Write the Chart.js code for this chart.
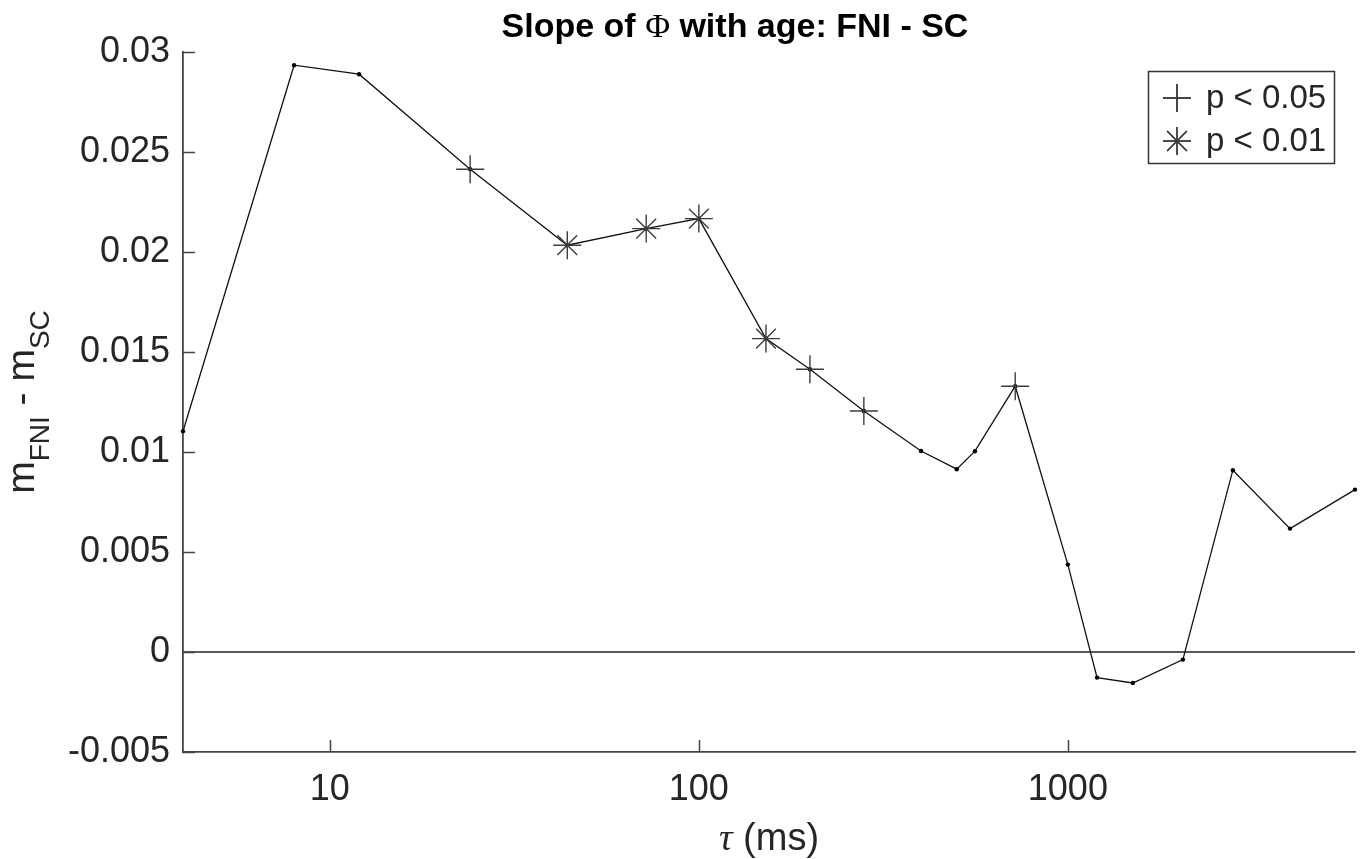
<!DOCTYPE html>
<html>
<head>
<meta charset="utf-8">
<script src="https://cdn.jsdelivr.net/npm/chart.js@4.4.1/dist/chart.umd.min.js"></script>
<style>
  html, body { margin: 0; padding: 0; background: #fff; }
  #chart { display: block; }
</style>
</head>
<body>
<canvas id="chart" width="1361" height="859"></canvas>
<script>
// tau (ms) on a log axis, slope difference FNI - SC
const tauMs = [4, 8, 12, 24, 44, 72, 100, 152, 200, 280, 400, 500, 560, 720, 1000, 1200, 1500, 2050, 2800, 4000, 6000];
const slopeDiff = [0.01104, 0.02934, 0.02889, 0.02414, 0.02034, 0.02117, 0.02167, 0.01567, 0.01414, 0.01205, 0.01005,
  0.00914, 0.01004, 0.01329, 0.00437, -0.00128, -0.00155, -0.00038, 0.00909, 0.00617, 0.00812];

// which tau values are significant
const sigP05 = [24, 200, 280, 720];
const sigP01 = [44, 72, 100, 152];
const legendLabels = ['p < 0.05', 'p < 0.01'];

const xTicks = [10, 100, 1000];
const yTicks = [-0.005, 0, 0.005, 0.01, 0.015, 0.02, 0.025, 0.03];

const FONT = '"Liberation Sans", Arial, Helvetica, sans-serif';
const AXIS_COLOR = '#444';
const TEXT_COLOR = '#262626';
const MARKER_COLOR = '#3c3c3c';

const linePoints = tauMs.map((t, i) => ({ x: t, y: slopeDiff[i] }));
const pick = list => linePoints.filter(p => list.includes(p.x));

// inward tick marks, labels and the boxed legend (MATLAB look)
const decorations = {
  id: 'decorations',
  afterDraw(chart) {
    const ctx = chart.ctx;
    const xs = chart.scales.x, ys = chart.scales.y;
    const area = chart.chartArea;

    ctx.save();
    ctx.strokeStyle = AXIS_COLOR;
    ctx.lineWidth = 1.5;
    ctx.beginPath();
    xTicks.forEach(v => {
      const px = Math.round(xs.getPixelForValue(v)) + 0.5;
      ctx.moveTo(px, area.bottom);
      ctx.lineTo(px, area.bottom - 12);
    });
    yTicks.forEach(v => {
      const py = Math.round(ys.getPixelForValue(v)) + 0.5;
      ctx.moveTo(area.left, py);
      ctx.lineTo(area.left + 12, py);
    });
    ctx.stroke();

    // title
    ctx.fillStyle = '#000';
    ctx.textBaseline = 'alphabetic';
    const parts = [
      { t: 'Slope of ', f: 'bold 34px ' + FONT },
      { t: '\u03A6', f: '34px "Liberation Serif", "DejaVu Serif", serif' },
      { t: ' with age: FNI - SC', f: 'bold 34px ' + FONT }
    ];
    let total = 0;
    parts.forEach(p => { ctx.font = p.f; p.w = ctx.measureText(p.t).width; total += p.w; });
    let tx = 735 - total / 2;
    ctx.textAlign = 'left';
    parts.forEach(p => { ctx.font = p.f; ctx.fillText(p.t, tx, 37); tx += p.w; });

    // x label
    ctx.fillStyle = TEXT_COLOR;
    const tau = { t: '\u03C4', f: 'italic 38px "Liberation Serif", "DejaVu Serif", serif' };
    const rest = { t: ' (ms)', f: '38px ' + FONT };
    ctx.font = tau.f; tau.w = ctx.measureText(tau.t).width;
    ctx.font = rest.f; rest.w = ctx.measureText(rest.t).width;
    let lx = (area.left + area.right) / 2 - (tau.w + rest.w) / 2;
    ctx.font = tau.f; ctx.fillText(tau.t, lx, 850);
    ctx.font = rest.f; ctx.fillText(rest.t, lx + tau.w, 850);

    // y label with subscripts
    const yl = [
      { t: 'm', f: '39px ' + FONT, dy: 0 },
      { t: 'FNI', f: '28px ' + FONT, dy: 15 },
      { t: ' - m', f: '39px ' + FONT, dy: 0 },
      { t: 'SC', f: '28px ' + FONT, dy: 15 }
    ];
    let yw = 0;
    yl.forEach(p => { ctx.font = p.f; p.w = ctx.measureText(p.t).width; yw += p.w; });
    ctx.translate(34, (area.top + area.bottom) / 2);
    ctx.rotate(-Math.PI / 2);
    let ox = -yw / 2;
    yl.forEach(p => { ctx.font = p.f; ctx.fillText(p.t, ox, p.dy); ox += p.w; });
    ctx.setTransform(1, 0, 0, 1, 0, 0);

    // legend box
    const bx = 1148, by = 71, bw = 186, bh = 92;
    ctx.fillStyle = '#fff';
    ctx.fillRect(bx, by, bw, bh);
    ctx.strokeStyle = '#333';
    ctx.lineWidth = 1.5;
    ctx.strokeRect(bx + 0.5, by + 0.5, bw, bh);
    const rows = [98, 141];
    [2, 3].forEach((di, k) => {
      const ds = chart.data.datasets[di];
      Chart.helpers.drawPoint(ctx, {
        pointStyle: ds.pointStyle, radius: 14, borderWidth: ds.borderWidth, rotation: 0
      }, 1177, rows[k]);
      ctx.strokeStyle = ds.borderColor;
      ctx.lineWidth = ds.borderWidth;
      ctx.stroke();
      ctx.fillStyle = TEXT_COLOR;
      ctx.font = '33px ' + FONT;
      ctx.textBaseline = 'middle';
      ctx.fillText(ds.label, 1206, rows[k] + 1);
    });
    ctx.restore();
  }
};

new Chart(document.getElementById('chart'), {
  type: 'line',
  data: {
    datasets: [
      {
        label: 'slope',
        data: linePoints,
        borderColor: '#111',
        borderWidth: 1.3,
        pointRadius: 2.2,
        pointBackgroundColor: '#000',
        pointBorderWidth: 0,
        tension: 0,
        order: 1
      },
      {
        label: 'zero',
        data: [{ x: tauMs[0], y: 0 }, { x: tauMs[tauMs.length - 1], y: 0 }],
        borderColor: '#5a5a5a',
        borderWidth: 1.8,
        pointRadius: 0,
        order: 2
      },
      {
        label: legendLabels[0],
        data: pick(sigP05),
        showLine: false,
        pointStyle: 'cross',
        pointRadius: 14,
        borderColor: MARKER_COLOR,
        borderWidth: 1.4,
        order: 0
      },
      {
        label: legendLabels[1],
        data: pick(sigP01),
        showLine: false,
        pointStyle: 'star',
        pointRadius: 14,
        borderColor: MARKER_COLOR,
        borderWidth: 1.4,
        order: 0
      }
    ]
  },
  options: {
    responsive: false,
    animation: false,
    clip: false,
    layout: { autoPadding: false, padding: { top: 52, right: 6, left: 0, bottom: 0 } },
    plugins: {
      legend: { display: false },
      title: { display: false },
      tooltip: { enabled: false }
    },
    scales: {
      x: {
        type: 'logarithmic',
        min: tauMs[0],
        max: tauMs[tauMs.length - 1],
        afterBuildTicks: scale => { scale.ticks = xTicks.map(v => ({ value: v })); },
        afterFit: scale => { scale.height = 107; scale.paddingLeft = 0; scale.paddingRight = 0; },
        ticks: {
          autoSkip: false,
          maxRotation: 0,
          padding: 16,
          color: TEXT_COLOR,
          font: { family: FONT, size: 36 },
          callback: v => String(v)
        },
        grid: { drawOnChartArea: false, drawTicks: false },
        border: { color: AXIS_COLOR, width: 1.8 }
      },
      y: {
        type: 'linear',
        min: -0.005,
        max: 0.03,
        afterBuildTicks: scale => { scale.ticks = yTicks.map(v => ({ value: v })); },
        afterFit: scale => { scale.width = 183; },
        ticks: {
          padding: 13,
          color: TEXT_COLOR,
          font: { family: FONT, size: 36 },
          callback: v => String(Number(v.toFixed(3)))
        },
        grid: { drawOnChartArea: false, drawTicks: false },
        border: { color: AXIS_COLOR, width: 1.8 }
      }
    }
  },
  plugins: [decorations]
});
</script>
</body>
</html>
